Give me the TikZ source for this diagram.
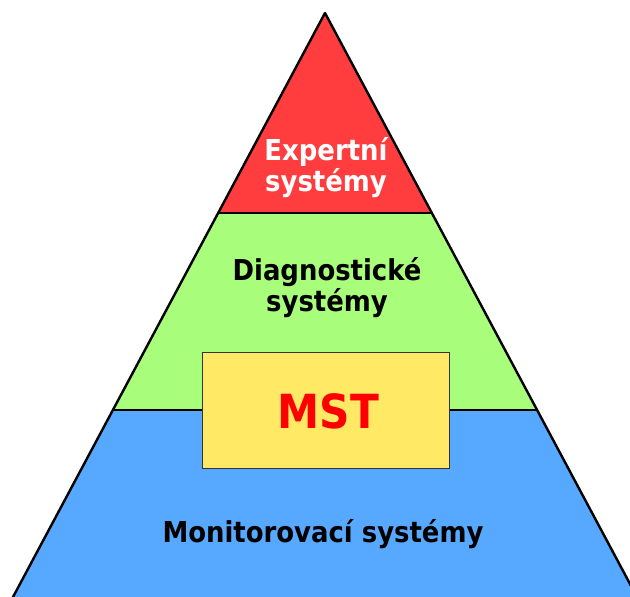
\documentclass[tikz,border=0pt]{standalone}
\usepackage{fontspec}
\newfontfamily\tfont{DejaVu Sans Condensed Bold}
\definecolor{cred}{RGB}{255,60,62}
\definecolor{cgreen}{RGB}{168,254,122}
\definecolor{cblue}{RGB}{87,169,255}
\definecolor{cyellow}{RGB}{255,233,101}
\definecolor{mstred}{RGB}{255,0,0}
\tikzset{
  lbl/.style={font=\tfont\fontsize{28.8}{31}\selectfont, align=center, inner sep=0pt},
  edge/.style={line width=2.4pt, line join=round},
  sep/.style={line width=1.6pt},
}
\begin{document}
\begin{tikzpicture}[x=1pt,y=-1pt]
\useasboundingbox (0,0) rectangle (630,597);
\clip (0,0) rectangle (630,597);
\coordinate (A) at (325,13);
\coordinate (L1) at (218,213);
\coordinate (R1) at (432,213);
\coordinate (L2) at (113,410);
\coordinate (R2) at (537,410);
\coordinate (L3) at (11.4,600);
\coordinate (R3) at (638.6,600);
\fill[cred] (A) -- (L1) -- (R1) -- cycle;
\fill[cgreen] (L1) -- (R1) -- (R2) -- (L2) -- cycle;
\fill[cblue] (L2) -- (R2) -- (R3) -- (L3) -- cycle;
\draw[sep] (L1) -- (R1);
\draw[sep] (L2) -- (R2);
\draw[edge] (L3) -- (A) -- (R3);
\node[draw=black!80, line width=1pt, fill=cyellow, minimum width=247pt, minimum height=116pt, inner sep=0pt] (mst) at (325.5,410) {};
\node[font=\tfont\fontsize{47}{47}\selectfont, text=mstred, inner sep=0pt] (msttext) at (328.5,411) {MST};
\node[lbl, text=white] (exp) at (326,168) {Expertní\\systémy};
\node[lbl] (diag) at (327,288) {Diagnostické\\systémy};
\node[lbl] (mon) at (323,534) {Monitorovací systémy};
\end{tikzpicture}
\end{document}
